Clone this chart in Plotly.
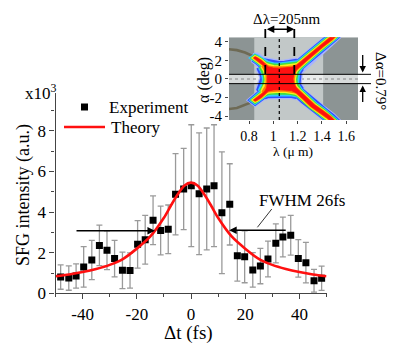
import plotly.graph_objects as go

W, H = 393, 353
FONT = "Liberation Serif, Times New Roman, serif"

# ---------------- main chart data ----------------
exp_dt = [-48.1, -45.1, -42.4, -39.6, -36.6, -33.8, -31.0, -28.2, -25.3, -22.5,
          -19.7, -16.9, -14.0, -11.2, -8.4, -5.7, -2.7, 0.1, 3.0, 5.8,
          8.5, 11.4, 14.3, 17.1, 19.8, 22.8, 25.6, 28.4, 31.3, 33.9,
          36.8, 39.6, 42.4, 45.4, 48.2]
exp_sfg = [0.80, 0.75, 0.85, 1.30, 1.64, 2.36, 2.12, 1.71, 1.13, 1.12,
           2.41, 2.64, 3.60, 3.09, 3.15, 4.88, 5.14, 5.30, 4.90, 5.14,
           5.30, 3.97, 4.38, 1.85, 1.80, 1.15, 1.34, 1.69, 2.46, 2.77,
           2.86, 1.72, 1.51, 0.62, 0.74]
exp_err = [0.60, 0.60, 0.60, 1.00, 0.97, 1.00, 0.95, 0.90, 0.90, 0.87,
           1.17, 1.20, 1.20, 1.20, 1.20, 2.00, 2.00, 3.00, 3.00, 3.00,
           3.00, 3.00, 2.00, 1.25, 1.28, 0.85, 0.87, 0.88, 0.96, 0.98,
           0.98, 0.92, 1.00, 0.56, 0.60]

th_dt = [-50, -45, -40, -35, -30, -25, -20, -15, -10, -7.5, -5, -2.5, 0,
         2.5, 5, 7.5, 10, 15, 20, 25, 30, 35, 40, 45, 50]
th_sfg = [0.84, 0.93, 1.05, 1.20, 1.40, 1.70, 2.20, 2.80, 3.72, 4.30, 4.85, 5.30, 5.45,
          5.30, 4.85, 4.30, 3.72, 2.80, 2.20, 1.70, 1.40, 1.20, 1.05, 0.93, 0.84]

x_tickvals = [-40, -20, 0, 20, 40]
x_ticktext = ["-40", "-20", "0", "20", "40"]
x_minor = [-50, -30, -10, 10, 30, 50]
y_tickvals = [0, 2, 4, 6, 8]
y_ticktext = ["0", "2", "4", "6", "8"]
y_minor = [1, 3, 5, 7, 9]

# ---------------- inset data ----------------
lam_tickvals = [0.8, 1.0, 1.2, 1.4, 1.6]
lam_ticktext = ["0.8", "1", "1.2", "1.4", "1.6"]
alpha_tickvals = [-4, -2, 0, 2, 4]
alpha_ticktext = ["-4", "-2", "0", "2", "4"]

# outline of the red "X" region (centre + four arms), clockwise
x_region_lam = [1.05, 1.10, 1.15,
                1.19, 1.25, 1.31, 1.38, 1.455, 1.50, 1.53,
                1.485, 1.41, 1.34, 1.28, 1.22,
                1.185, 1.168, 1.162, 1.168, 1.185,
                1.22, 1.28, 1.34, 1.41, 1.475, 1.53, 1.50,
                1.44, 1.38, 1.31, 1.25, 1.19,
                1.15, 1.10, 1.05, 1.0, 0.96,
                0.94, 0.90, 0.862, 0.85, 0.84, 0.875, 0.915, 0.935,
                0.945, 0.95, 0.953, 0.95, 0.945,
                0.935, 0.915, 0.875, 0.84, 0.85, 0.862, 0.90, 0.94,
                0.96, 1.0, 1.05]
x_region_alpha = [1.15, 1.18, 1.25,
                  1.45, 2.10, 2.82, 3.55, 4.30, 4.80, 4.80,
                  4.25, 3.50, 2.75, 2.05, 1.35,
                  0.90, 0.45, 0.0, -0.45, -0.90,
                  -1.35, -2.10, -2.80, -3.45, -4.10, -4.80, -4.80,
                  -4.15, -3.60, -2.95, -2.20, -1.50,
                  -1.25, -1.18, -1.15, -1.18, -1.30,
                  -1.50, -1.98, -2.30, -2.36, -2.26, -1.95, -1.50, -1.20,
                  -0.90, -0.45, 0.0, 0.45, 0.90,
                  1.20, 1.50, 1.95, 2.26, 2.36, 2.30, 1.98, 1.50,
                  1.30, 1.18, 1.15]
core_lam = [0.915, 0.95, 1.0, 1.05, 1.10, 1.15, 1.20,
            1.175, 1.165, 1.162, 1.165, 1.175, 1.20,
            1.15, 1.10, 1.05, 1.0, 0.95, 0.915,
            0.94, 0.95, 0.953, 0.95, 0.94, 0.915]
core_alpha = [1.45, 1.28, 1.18, 1.15, 1.18, 1.25, 1.40,
              0.90, 0.45, 0.0, -0.45, -0.90, -1.40,
              -1.25, -1.18, -1.15, -1.18, -1.28, -1.45,
              -0.90, -0.45, 0.0, 0.45, 0.90, 1.45]
tail_ul_lam = [0.86, 0.80, 0.767, 0.70, 0.62]
tail_ul_alpha = [2.30, 2.62, 2.85, 3.10, 3.22]
tail_ll_lam = [0.86, 0.80, 0.767, 0.70, 0.62]
tail_ll_alpha = [-2.30, -2.60, -2.80, -3.12, -3.25]

LAM_RANGE = [0.635, 1.697]
ALPHA_RANGE = [-4.41, 4.48]


def px(x):
    return x / W


def py(y):
    return 1 - y / H


fig = go.Figure()

# experiment
fig.add_trace(go.Scatter(
    x=exp_dt, y=exp_sfg, mode="markers", name="Experiment",
    marker=dict(symbol="square", size=7, color="black"),
    error_y=dict(type="data", array=exp_err, visible=True, color="#9a9a9a",
                 thickness=1.3, width=3),
    xaxis="x", yaxis="y", showlegend=False))
# theory
fig.add_trace(go.Scatter(
    x=th_dt, y=th_sfg, mode="lines", name="Theory",
    line=dict(color="#ff1010", width=2.6, shape="spline", smoothing=0.8),
    xaxis="x", yaxis="y", showlegend=False))


def inset_line(xs, ys, color, width, **kw):
    return go.Scatter(x=xs, y=ys, mode="lines",
                      line=dict(color=color, width=width, shape="linear"),
                      showlegend=False, hoverinfo="skip", xaxis="x2", yaxis="y2", **kw)


# inset: grey tails, colour halo layers, red region
fig.add_trace(inset_line(tail_ul_lam + [None] + tail_ll_lam,
                         tail_ul_alpha + [None] + tail_ll_alpha, "#6e6a55", 2.6))
x_layers = [("#a8b4ff", 10), ("#3050ff", 8.5), ("#30c8ff", 6.8), ("#40e040", 5.2),
            ("#f8f020", 3.6), ("#ff8000", 2)]
core_layers = [("#a8b4ff", 17), ("#3050ff", 14.5), ("#30c8ff", 11.5), ("#40e040", 9),
               ("#f8f020", 6), ("#ff8000", 3.5)]
for (cx, wx), (cc, wc) in zip(x_layers, core_layers):
    fig.add_trace(inset_line(core_lam, core_alpha, cc, wc))
    fig.add_trace(inset_line(x_region_lam, x_region_alpha, cx, wx))
fig.add_trace(inset_line(x_region_lam, x_region_alpha, "#ff1010", 0.8,
                         fill="toself", fillcolor="#ff1010"))

shapes = [
    # inset background
    dict(type="rect", xref="x2", yref="y2", x0=LAM_RANGE[0], x1=LAM_RANGE[1],
         y0=ALPHA_RANGE[0], y1=ALPHA_RANGE[1], fillcolor="#8c9494", line_width=0, layer="below"),
    dict(type="rect", xref="x2", yref="y2", x0=0.843, x1=1.41,
         y0=ALPHA_RANGE[0], y1=ALPHA_RANGE[1], fillcolor="#c2c8c8", line_width=0, layer="below"),
    dict(type="rect", xref="x2", yref="y2", x0=LAM_RANGE[0], x1=LAM_RANGE[1],
         y0=-0.5, y1=0.5, fillcolor="rgba(255,255,255,0.65)", line_width=0, layer="below"),
    dict(type="line", xref="x2", yref="y2", x0=LAM_RANGE[0], x1=LAM_RANGE[1],
         y0=0, y1=0, line=dict(color="#888", width=1.2, dash="dot"), layer="below"),
    # band edges extended right
    dict(type="line", xref="paper", yref="y2", x0=px(229), x1=px(371), y0=0.5, y1=0.5,
         line=dict(color="black", width=1)),
    dict(type="line", xref="paper", yref="y2", x0=px(229), x1=px(371), y0=-0.5, y1=-0.5,
         line=dict(color="black", width=1)),
    # vertical dotted centre line
    dict(type="line", xref="x2", yref="y2", x0=1.049, x1=1.049,
         y0=ALPHA_RANGE[0], y1=ALPHA_RANGE[1], line=dict(color="black", width=1.2, dash="dot")),
    # dashed bandwidth lines
    dict(type="line", xref="paper", yref="paper", x0=px(265.3), x1=px(265.3), y0=py(29), y1=py(74),
         line=dict(color="black", width=1.8, dash="dash")),
    dict(type="line", xref="paper", yref="paper", x0=px(294.3), x1=px(294.3), y0=py(29), y1=py(74),
         line=dict(color="black", width=1.8, dash="dash")),
    # FWHM leader line
    dict(type="line", xref="x", yref="y", x0=29.8, y0=4.15, x1=24.5, y1=3.25,
         line=dict(color="black", width=0.8)),
    # legend glyphs
    dict(type="rect", xref="paper", yref="paper", x0=px(81), x1=px(88), y0=py(110.5), y1=py(103.5),
         fillcolor="black", line_width=0),
    dict(type="line", xref="paper", yref="paper", x0=px(64), x1=px(105), y0=py(127), y1=py(127),
         line=dict(color="#ff1010", width=2.6)),
]

ann_font = dict(family=FONT, size=17, color="black")


def label(text, x, y, size=17, angle=0, xanchor="center"):
    return dict(text=text, xref="paper", yref="paper", x=px(x), y=py(y), xanchor=xanchor,
                yanchor="middle", textangle=angle, showarrow=False,
                font=dict(family=FONT, size=size, color="black"))


annotations = [
    label("x10<sup>3</sup>", 59, 92, 17, xanchor="right"),
    label("SFG intensity (a.u.)", 23, 195, 18, angle=-90),
    label("Δt (fs)", 188, 333, 19),
    label("Experiment", 107, 107, 17, xanchor="left"),
    label("Theory", 109, 127, 17, xanchor="left"),
    dict(text="FWHM 26fs", xref="x", yref="y", x=40.8, y=4.55, showarrow=False,
         font=ann_font),
    # FWHM arrows
    dict(text="", xref="x", yref="y", axref="x", ayref="y", x=-13.3, y=3.08, ax=-42.8, ay=3.08,
         showarrow=True, arrowhead=2, arrowsize=1, arrowwidth=1.5, arrowcolor="black"),
    dict(text="", xref="x", yref="y", axref="x", ayref="y", x=14.1, y=3.1, ax=35.5, ay=3.1,
         showarrow=True, arrowhead=2, arrowsize=1, arrowwidth=1.5, arrowcolor="black"),
    # inset texts
    label("Δλ=205nm", 286, 19, 15),
    dict(text="", xref="paper", yref="paper", x=px(294.3), y=py(29.3), ax=-29, ay=0,
         showarrow=True, arrowhead=2, arrowside="end+start", arrowsize=1, arrowwidth=1.5,
         arrowcolor="black"),
    label("α (deg)", 204, 80, 16, angle=-90),
    label("λ (μ m)", 293, 151, 13.5),
    label("Δα=0.79°", 381, 81, 15, angle=90),
    dict(text="", xref="paper", yref="paper", x=px(362.7), y=py(72.5), ax=0, ay=-19,
         showarrow=True, arrowhead=2, arrowsize=1, arrowwidth=1.3, arrowcolor="black"),
    dict(text="", xref="paper", yref="paper", x=px(362.7), y=py(85.5), ax=0, ay=18,
         showarrow=True, arrowhead=2, arrowsize=1, arrowwidth=1.3, arrowcolor="black"),
]

tickfont = dict(family=FONT, size=17, color="black")
fig.update_layout(
    width=W, height=H, autosize=False,
    margin=dict(l=0, r=0, t=0, b=0),
    paper_bgcolor="white", plot_bgcolor="rgba(0,0,0,0)",
    showlegend=False,
    xaxis=dict(domain=[px(55.5), px(326.5)], range=[-50, 50], anchor="y",
               tickmode="array", tickvals=x_tickvals, ticktext=x_ticktext,
               ticks="outside", ticklen=5, tickwidth=1, tickcolor="#444",
               minor=dict(tickmode="array", tickvals=x_minor, ticks="outside", ticklen=3,
                          tickcolor="#444", showgrid=False),
               showline=True, linecolor="#444", linewidth=1.2, showgrid=False, zeroline=False,
               tickfont=tickfont, automargin=False),
    yaxis=dict(domain=[py(293.3), py(93.3)], range=[0, 9.85], anchor="x",
               tickmode="array", tickvals=y_tickvals, ticktext=y_ticktext,
               ticks="outside", ticklen=5, tickwidth=1, tickcolor="#444",
               minor=dict(tickmode="array", tickvals=y_minor, ticks="outside", ticklen=3,
                          tickcolor="#444", showgrid=False),
               showline=True, linecolor="#444", linewidth=1.2, showgrid=False, zeroline=False,
               tickfont=tickfont, automargin=False),
    xaxis2=dict(domain=[px(229), px(358)], range=LAM_RANGE, anchor="y2",
                tickmode="array", tickvals=lam_tickvals, ticktext=lam_ticktext,
                ticks="outside", ticklen=3, tickcolor="#444", showline=False,
                showgrid=False, zeroline=False, automargin=False,
                tickfont=dict(family=FONT, size=14, color="black")),
    yaxis2=dict(domain=[py(120), py(37.3)], range=ALPHA_RANGE, anchor="x2",
                tickmode="array", tickvals=alpha_tickvals, ticktext=alpha_ticktext,
                ticks="outside", ticklen=3, tickcolor="#444", showline=False,
                showgrid=False, zeroline=False, automargin=False,
                tickfont=dict(family=FONT, size=15, color="black")),
    shapes=shapes,
    annotations=annotations,
)

fig.write_html("out.html", config={"displayModeBar": False},
               post_script="document.body.style.margin='0';")
